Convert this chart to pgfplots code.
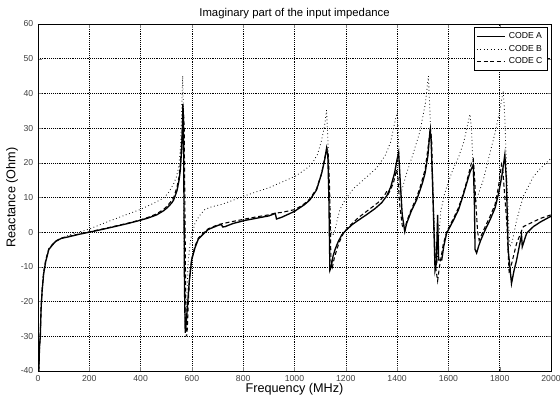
\documentclass[border=0pt]{standalone}
\usepackage{fontspec}
\setmainfont{Liberation Sans}
\usepackage{pgfplots}
\pgfplotsset{compat=1.18}
\begin{document}
\begin{tikzpicture}
\begin{axis}[
 scale only axis, width=384.75pt, height=260.25pt,
 xmin=0, xmax=2000, ymin=-40, ymax=60,
 xtick={0,200,...,2000}, ytick={-40,-30,...,60},
 grid=major, grid style={black, densely dotted, line width=0.4pt},
 tick align=inside, major tick length=3pt,
 axis line style={black, line width=0.5pt},
 ticklabel style={font=\fontsize{6.5}{7}\selectfont, text=black!75},
 /pgf/number format/assume math mode=true,
 scaled ticks=false, /pgf/number format/set thousands separator={},
 title={Imaginary part of the input impedance},
 title style={font=\fontsize{8.5}{10}\selectfont, at={(axis description cs:0.5,1)}, anchor=base, yshift=-0.5pt},
 xlabel={Frequency (MHz)},
 xlabel style={font=\fontsize{9.5}{11}\selectfont, at={(axis description cs:0.5,0)}, anchor=base, yshift=-16pt},
 legend style={at={(axis description cs:0.993,0.99)}, anchor=north east, font=\fontsize{6.5}{7.5}\selectfont, draw=black, line width=0.4pt, inner sep=1.5pt, row sep=-0.5pt},
 legend cell align=left,
 legend image code/.code={\draw[#1] (0cm,0cm) -- (0.75cm,0cm);},
]
\addplot[black, line width=1pt] coordinates {
(3,-40) (6,-33) (9,-30) (12,-22) (16,-17) (22,-12) (30,-8.5) (42,-5) (55,-3.8) (68,-2.7) (90,-1.8) (121,-1.3) (160,-0.6) (200,0) (250,0.8) (292,1.5) (350,2.5) (397,3.4) (430,4.1) (463,5) (490,6.2) (503,7) (520,8.3) (529,9.3) (542,12) (550,15) (555,18) (560,24) (563,30) (565,37) (567,33) (569,10) (571,-15) (574,-29) (577,-27) (582,-22) (590,-14) (599,-8) (612,-4.5) (625,-2) (645,-0.5) (664,0.8) (703,2) (715,2.2) (720,1.5) (729,1.6) (760,2.5) (807,3.4) (850,4) (900,4.7) (925,5.4) (930,3.8) (950,4.3) (1000,6) (1020,7) (1040,8) (1060,9.3) (1086,12.2) (1106,17) (1118,21) (1125,24.2) (1130,22) (1134,10) (1138,-11) (1143,-10) (1150,-7) (1158,-5) (1170,-2.8) (1184,-0.8) (1200,0.5) (1225,2.2) (1250,3.5) (1280,5) (1314,6.8) (1340,8.5) (1360,10.5) (1375,13) (1390,17) (1400,21) (1406,23) (1412,15) (1420,5) (1430,0.2) (1437,2.5) (1455,6) (1476,9.3) (1489,12) (1500,14.5) (1509,17) (1520,22) (1528,29) (1532,28) (1540,10) (1548,-11) (1553,-9) (1558,5) (1562,-8) (1574,-8) (1582,-4) (1593,-0.3) (1620,3.5) (1639,6.4) (1655,10) (1671,14) (1685,17.5) (1697,19.4) (1701,10) (1704,-5) (1710,-6) (1718,-4) (1725,-2.5) (1743,0.6) (1762,3.5) (1782,7) (1795,11) (1808,16) (1820,22.3) (1826,15) (1833,-5) (1846,-14.8) (1856,-11) (1866,-8) (1885,-0.8) (1888,-4.2) (1905,-0.3) (1931,1.6) (1960,3) (2000,4.6)
};
\addlegendentry{CODE A}
\addplot[black, line width=0.6pt, dotted] coordinates {
(3,-40) (6,-33) (9,-30) (12,-22) (16,-17) (22,-12) (30,-8.5) (42,-5) (55,-3.6) (70,-2.6) (95,-1.6) (134,-0.5) (200,0.9) (250,2.4) (292,3.6) (350,5.2) (397,6.5) (450,8.3) (489,9.8) (510,11.5) (529,14) (540,16) (549,19) (555,24) (559,32) (562,40) (564,45) (566,38) (568,10) (571,-15) (574,-27) (578,-25) (582,-15) (586,-8) (595,-2) (605,0.5) (612,2.7) (630,4.8) (651,6.6) (680,7.4) (716,8) (760,9.2) (807,10.5) (850,11.6) (900,12.8) (943,14.2) (1000,16) (1021,17) (1058,19) (1073,20.3) (1090,22.5) (1106,26.6) (1118,31) (1125,35.2) (1130,27) (1136,12) (1142,0) (1148,-1) (1152,-0.5) (1158,0.7) (1168,4) (1177,6.5) (1197,9.3) (1229,12.5) (1275,15.5) (1320,18.5) (1353,22) (1375,26) (1392,32) (1401,34.7) (1406,25) (1412,10.5) (1418,12) (1437,17) (1460,22) (1489,29) (1510,37) (1522,45) (1528,35) (1536,18) (1544,4.5) (1548,-5) (1556,-8) (1562,-2) (1570,6) (1585,11) (1600,14.5) (1620,18.5) (1639,21.5) (1660,26) (1684,34) (1690,30) (1698,15) (1704,8.3) (1712,10) (1736,15) (1762,22.8) (1782,28.6) (1800,35) (1814,40.7) (1820,33) (1827,17) (1835,2) (1840,-4.2) (1848,-3) (1866,3.5) (1892,10.3) (1931,16) (1960,18.5) (1996,21) (2000,21.3)
};
\addlegendentry{CODE B}
\addplot[black, line width=0.8pt, dash pattern=on 3pt off 2pt] coordinates {
(3,-40) (6,-33) (9,-29) (12,-22) (16,-16.5) (22,-11.5) (30,-8) (42,-4.8) (55,-3.6) (68,-2.6) (90,-1.7) (121,-1.2) (160,-0.5) (200,0.1) (250,0.9) (292,1.6) (350,2.6) (397,3.5) (430,4.3) (463,5.3) (490,6.6) (503,7.5) (520,9) (529,10) (542,13) (550,16) (555,20) (560,26) (564,32) (567,35) (570,30) (573,5) (576,-20) (579,-30) (582,-28) (586,-20) (592,-12) (600,-7.5) (612,-4) (625,-1.7) (645,-0.2) (664,1) (703,2.2) (740,2.8) (807,3.8) (850,4.4) (900,5) (925,5.5) (950,5.7) (1000,6.5) (1020,7.3) (1040,8.3) (1060,9.6) (1086,12.5) (1106,17) (1118,21.5) (1127,24) (1132,22) (1137,12) (1142,-8) (1148,-10) (1155,-7.5) (1165,-5) (1175,-2.8) (1190,-0.4) (1210,1.5) (1249,4.2) (1290,6.5) (1325,8.5) (1350,10.5) (1360,11.8) (1366,11) (1385,14) (1398,18) (1403,16) (1410,8) (1420,2) (1430,0.5) (1437,3) (1455,6.5) (1476,10) (1489,12.8) (1509,18) (1520,24) (1530,30) (1535,26) (1542,5) (1550,-10) (1558,-14) (1565,-10) (1580,-3.5) (1593,0) (1620,4) (1639,7) (1655,10.5) (1671,14.5) (1690,20) (1697,21) (1702,16) (1707,8.3) (1714,0) (1720,-2.3) (1743,1.5) (1762,4.5) (1782,8) (1795,13) (1807,19.5) (1812,18) (1820,10) (1827,3.5) (1837,-12) (1850,-8) (1866,-3.2) (1892,1.6) (1931,3) (1960,4) (2000,5)
};
\addlegendentry{CODE C}
\end{axis}
\node[rotate=90, anchor=center, font=\fontsize{9.5}{11}\selectfont, inner sep=0pt] at ([xshift=-19.5pt]current axis.west) {Reactance (Ohm)};
\pgfresetboundingbox
\path[use as bounding box] ([shift={(-28.5pt,-21.75pt)}]current axis.south west) rectangle ([shift={(6.75pt,18pt)}]current axis.north east);
\end{tikzpicture}
\end{document}
